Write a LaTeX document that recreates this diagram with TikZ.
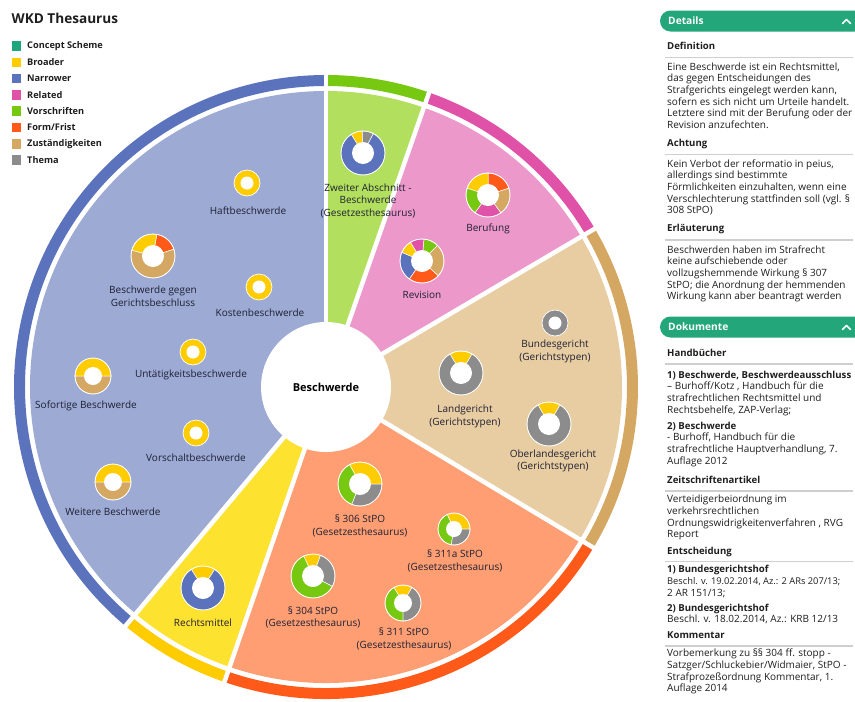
\documentclass[tikz,border=0pt]{standalone}
\usepackage{fontspec}
\setmainfont{Open Sans}
\usetikzlibrary{calc}
\definecolor{cscheme}{HTML}{20A67C}
\definecolor{cbroad}{HTML}{FFCC00}
\definecolor{cnarrow}{HTML}{5B73BD}
\definecolor{crel}{HTML}{E052A8}
\definecolor{cvor}{HTML}{77C811}
\definecolor{cform}{HTML}{FF5A1A}
\definecolor{czust}{HTML}{D4A862}
\definecolor{cthema}{HTML}{8C8C8C}
\definecolor{wblue}{HTML}{9CAAD4}
\definecolor{wgreen}{HTML}{B2E05E}
\definecolor{wpink}{HTML}{EC98CB}
\definecolor{wtan}{HTML}{E8CDA2}
\definecolor{worange}{HTML}{FE9E72}
\definecolor{wyellow}{HTML}{FDE22F}
\definecolor{labc}{HTML}{1E2033}
\definecolor{txtc}{HTML}{1E1E1E}
\definecolor{rulec}{HTML}{CFCFCF}
\definecolor{barc}{HTML}{22A67A}
\tikzset{
  lbl/.style={font=\fontsize{10}{12.5}\selectfont, text=labc, align=center, inner sep=0pt},
  legtxt/.style={anchor=west, font=\bfseries\fontsize{9.2}{11}\selectfont, text=txtc, inner sep=0pt},
  ptext/.style={anchor=west, font=\fontsize{10}{11}\selectfont, text=txtc, inner sep=0pt, text height=7pt, text depth=2.4pt},
  psmall/.style={ptext, font=\fontsize{9.3}{11}\selectfont},
  pbold/.style={ptext, font=\bfseries\fontsize{9.6}{11}\selectfont},
  barhead/.style={anchor=west, font=\bfseries\fontsize{10.2}{12}\selectfont, text=white, inner sep=0pt},
  sepline/.style={white, line width=4.5pt},
  rulel/.style={rulec, line width=1.2pt},
  segline/.style={draw=white, line width=0.5pt},
}
% wedge of the pie: angles a<b (screen, counter-clockwise)
\newcommand\pwedge[3]{\fill[#3] (0,0) -- ({-(#1)}:296) arc[start angle={-(#1)}, end angle={-(#2)}, radius=296] -- cycle;}
\newcommand\pring[3]{\fill[#3] ({-(#1)}:301) -- ({-(#1)}:312) arc[start angle={-(#1)}, end angle={-(#2)}, radius=312] -- ({-(#2)}:301) arc[start angle={-(#2)}, end angle={-(#1)}, radius=301] -- cycle;}
% donut segment: x, y, R, a, b, colour
\newcommand\dseg[6]{\begin{scope}[shift={(#1,#2)}]\filldraw[fill=#6, segline] (0,0) -- ({-(#4)}:#3) arc[start angle={-(#4)}, end angle={-(#5)}, radius=#3] -- cycle;\end{scope}}
% donut hole + rim: x, y, R
\newcommand\dhole[3]{\fill[white] (#1,#2) circle[radius={#3/2}]; \draw[white, line width=0.7pt] (#1,#2) circle[radius=#3];}
\newcommand\dfull[4]{\fill[#4] (#1,#2) circle[radius=#3]; \dhole{#1}{#2}{#3}}
\begin{document}
\begin{tikzpicture}[x=1pt, y=-1pt]
\useasboundingbox (0,0) rectangle (855,702);
\fill[white] (0,0) rectangle (855,702);

% ---------- title and legend ----------
\node[anchor=west, font=\bfseries\fontsize{13.6}{16}\selectfont, text=txtc, inner sep=0pt] (title) at (11.5,18) {WKD Thesaurus};
\newcommand\legitem[4]{\fill[#2] (11.5,{#1-4.75}) rectangle ++(9.5,9.5); \node[legtxt] (#3) at (27,#1) {#4};}
\legitem{46}{cscheme}{leg1}{Concept Scheme}
\legitem{62.3}{cbroad}{leg2}{Broader}
\legitem{78.6}{cnarrow}{leg3}{Narrower}
\legitem{94.9}{crel}{leg4}{Related}
\legitem{111.2}{cvor}{leg5}{Vorschriften}
\legitem{127.5}{cform}{leg6}{Form/Frist}
\legitem{143.8}{czust}{leg7}{Zuständigkeiten}
\legitem{160.1}{cthema}{leg8}{Thema}

% ---------- pie ----------
\coordinate (C) at (326,387);
\begin{scope}[shift={(326,387)}]
  \pwedge{70.7}{90}{wgreen}
  \pwedge{30.5}{70.7}{wpink}
  \pwedge{-31}{30.5}{wtan}
  \pwedge{-109}{-31}{worange}
  \pwedge{-130}{-109}{wyellow}
  \pwedge{90}{230}{wblue}
  \pring{70.7}{90}{cvor}
  \pring{30.5}{70.7}{crel}
  \pring{-31}{30.5}{czust}
  \pring{-109}{-31}{cform}
  \pring{-130}{-109}{cbroad}
  \pring{90}{230}{cnarrow}
  \foreach \a in {90,70.7,30.5,-31,-109,-130} \draw[sepline] (0,0) -- ({-\a}:318);
\end{scope}
\node[circle, fill=white, minimum size=130pt, inner sep=0pt, font=\bfseries\fontsize{11}{13}\selectfont, text=black] (center) at (C) {Beschwerde};

% ---------- donuts ----------
% Zweiter Abschnitt
\dseg{363}{153}{22}{122}{422}{cnarrow}
\dseg{363}{153}{22}{92}{122}{cbroad}
\dseg{363}{153}{22}{62}{92}{cthema}
\dhole{363}{153}{22}
\node[lbl] (zweiter) at (368,200.5) {Zweiter Abschnitt -\\Beschwerde\\(Gesetzesthesaurus)};
% Berufung
\dseg{488}{195}{22}{18}{90}{cform}
\dseg{488}{195}{22}{90}{162}{cbroad}
\dseg{488}{195}{22}{162}{234}{cvor}
\dseg{488}{195}{22}{234}{306}{crel}
\dseg{488}{195}{22}{306}{378}{czust}
\dhole{488}{195}{22}
\node[lbl] (berufung) at (488,228.5) {Berufung};
% Revision
\dseg{422}{261}{22}{45}{85}{cvor}
\dseg{422}{261}{22}{85}{122}{crel}
\dseg{422}{261}{22}{122}{157}{cbroad}
\dseg{422}{261}{22}{157}{235}{cnarrow}
\dseg{422}{261}{22}{235}{318}{cform}
\dseg{422}{261}{22}{318}{405}{czust}
\dhole{422}{261}{22}
\node[lbl] (revision) at (422,295) {Revision};
% Haftbeschwerde
\dfull{247}{183}{13}{cbroad}
\node[lbl] (haft) at (248,211) {Haftbeschwerde};
% Beschwerde gegen Gerichtsbeschluss
\dseg{153}{256}{22}{18}{80}{cform}
\dseg{153}{256}{22}{80}{165}{cbroad}
\dseg{153}{256}{22}{165}{378}{czust}
\dhole{153}{256}{22}
\node[lbl] (gegen) at (153,296) {Beschwerde gegen\\Gerichtsbeschluss};
% Kostenbeschwerde
\dfull{259}{287}{13}{cbroad}
\node[lbl] (kosten) at (260,313) {Kostenbeschwerde};
% Untaetigkeitsbeschwerde
\dfull{193}{352}{13}{cbroad}
\node[lbl] (untaet) at (191,375) {Untätigkeitsbeschwerde};
% Sofortige Beschwerde
\dseg{93}{376}{18}{0}{180}{cbroad}
\dseg{93}{376}{18}{180}{360}{czust}
\dhole{93}{376}{18}
\node[lbl] (sofort) at (86,406) {Sofortige Beschwerde};
% Vorschaltbeschwerde
\dfull{196}{433}{13}{cbroad}
\node[lbl] (vorschalt) at (196,458) {Vorschaltbeschwerde};
% Weitere Beschwerde
\dseg{113}{482}{18}{0}{180}{cbroad}
\dseg{113}{482}{18}{180}{360}{czust}
\dhole{113}{482}{18}
\node[lbl] (weitere) at (113,512) {Weitere Beschwerde};
% Rechtsmittel
\dseg{203}{588}{22}{58}{122}{cbroad}
\dseg{203}{588}{22}{122}{418}{cnarrow}
\dhole{203}{588}{22}
\node[lbl] (rechtsm) at (203,623) {Rechtsmittel};
% Bundesgericht
\dfull{555}{323}{13}{cthema}
\node[lbl] (bgh) at (555,351.5) {Bundesgericht\\(Gerichtstypen)};
% Landgericht
\dseg{461}{373}{22}{60}{120}{cbroad}
\dseg{461}{373}{22}{120}{420}{cthema}
\dhole{461}{373}{22}
\node[lbl] (lg) at (465,416.5) {Landgericht\\(Gerichtstypen)};
% Oberlandesgericht
\dseg{549}{424}{22}{60}{120}{cbroad}
\dseg{549}{424}{22}{120}{420}{cthema}
\dhole{549}{424}{22}
\node[lbl] (olg) at (553,461) {Oberlandesgericht\\(Gerichtstypen)};
% 306
\dseg{360}{484}{22}{0}{118}{cbroad}
\dseg{360}{484}{22}{118}{248}{cvor}
\dseg{360}{484}{22}{248}{360}{cthema}
\dhole{360}{484}{22}
\node[lbl] (p306) at (360,526) {§ 306 StPO\\(Gesetzesthesaurus)};
% 311a
\dseg{454}{529}{16}{0}{115}{cbroad}
\dseg{454}{529}{16}{115}{260}{cvor}
\dseg{454}{529}{16}{260}{360}{cthema}
\dhole{454}{529}{16}
\node[lbl] (p311a) at (455,561) {§ 311a StPO\\(Gesetzesthesaurus)};
% 304
\dseg{313}{576}{22}{70}{115}{cbroad}
\dseg{313}{576}{22}{115}{332}{cvor}
\dseg{313}{576}{22}{332}{430}{cthema}
\dhole{313}{576}{22}
\node[lbl] (p304) at (313,617.5) {§ 304 StPO\\(Gesetzesthesaurus)};
% 311
\dseg{403}{603}{18}{60}{120}{cbroad}
\dseg{403}{603}{18}{120}{270}{cvor}
\dseg{403}{603}{18}{270}{420}{cthema}
\dhole{403}{603}{18}
\node[lbl] (p311) at (404,639) {§ 311 StPO\\(Gesetzesthesaurus)};

% ---------- right panel ----------
\begin{scope}
\clip (0,0) rectangle (855,702);
\fill[barc, rounded corners=10.5pt] (660,10.5) rectangle (866,31.5);
\fill[barc, rounded corners=10.5pt] (660,316.5) rectangle (866,337.5);
\end{scope}
\node[barhead] (hdetails) at (668,21) {Details};
\draw[white, line width=1.6pt, line cap=round, line join=round] (842.5,23.5) -- (846.5,19.5) -- (850.5,23.5);
\node[barhead] (hdok) at (668,327) {Dokumente};
\draw[white, line width=1.6pt, line cap=round, line join=round] (842.5,329.5) -- (846.5,325.5) -- (850.5,329.5);

\node[pbold] (sdef) at (667,47) {Definition};
\draw[rulel] (665,57.5) -- (853,57.5);
\node[ptext] (d1) at (667,68) {Eine Beschwerde ist ein Rechtsmittel,};
\node[ptext] (d2) at (667,79.6) {das gegen Entscheidungen des};
\node[ptext] (d3) at (667,91.2) {Strafgerichts eingelegt werden kann,};
\node[ptext] (d4) at (667,102.8) {sofern es sich nicht um Urteile handelt.};
\node[ptext] (d5) at (667,114.4) {Letztere sind mit der Berufung oder der};
\node[ptext] (d6) at (667,126) {Revision anzufechten.};

\node[pbold] (sach) at (667,144) {Achtung};
\draw[rulel] (665,154.5) -- (853,154.5);
\node[ptext] (a1) at (667,165) {Kein Verbot der reformatio in peius,};
\node[ptext] (a2) at (667,176.6) {allerdings sind bestimmte};
\node[ptext] (a3) at (667,188.2) {Förmlichkeiten einzuhalten, wenn eine};
\node[ptext] (a4) at (667,199.8) {Verschlechterung stattfinden soll (vgl. §};
\node[ptext] (a5) at (667,211.4) {308 StPO)};

\node[pbold] (serl) at (667,229.5) {Erläuterung};
\draw[rulel] (665,240) -- (853,240);
\node[ptext] (e1) at (667,251) {Beschwerden haben im Strafrecht};
\node[ptext] (e2) at (667,262.6) {keine aufschiebende oder};
\node[ptext] (e3) at (667,274.2) {vollzugshemmende Wirkung § 307};
\node[ptext] (e4) at (667,285.8) {StPO; die Anordnung der hemmenden};
\node[ptext] (e5) at (667,297.4) {Wirkung kann aber beantragt werden};

\node[pbold] (shand) at (667,354) {Handbücher};
\draw[rulel] (665,364) -- (853,364);
\node[pbold] (h1) at (667,376) {1) Beschwerde, Beschwerdeausschluss};
\node[ptext] (h2) at (667,387.6) {– Burhoff/Kotz , Handbuch für die};
\node[ptext] (h3) at (667,399.2) {strafrechtlichen Rechtsmittel und};
\node[ptext] (h4) at (667,410.8) {Rechtsbehelfe, ZAP-Verlag;};
\node[pbold] (h5) at (667,427) {2) Beschwerde};
\node[ptext] (h6) at (667,438.6) {- Burhoff, Handbuch für die};
\node[ptext] (h7) at (667,450.2) {strafrechtliche Hauptverhandlung, 7.};
\node[ptext] (h8) at (667,461.8) {Auflage 2012};

\node[pbold] (szeit) at (667,481) {Zeitschriftenartikel};
\draw[rulel] (665,491) -- (853,491);
\node[ptext] (z1) at (667,500.5) {Verteidigerbeiordnung im};
\node[ptext] (z2) at (667,512.1) {verkehrsrechtlichen};
\node[ptext] (z3) at (667,523.7) {Ordnungswidrigkeitenverfahren , RVG};
\node[ptext] (z4) at (667,535.3) {Report};

\node[pbold] (sent) at (667,552) {Entscheidung};
\draw[rulel] (665,561.5) -- (853,561.5);
\node[pbold] (n1) at (667,570.5) {1) Bundesgerichtshof};
\node[psmall] (n2) at (667,582.1) {Beschl. v. 19.02.2014, Az.: 2 ARs 207/13;};
\node[ptext] (n3) at (667,593.7) {2 AR 151/13;};
\node[pbold] (n4) at (667,609) {2) Bundesgerichtshof};
\node[ptext] (n5) at (667,620.6) {Beschl. v. 18.02.2014, Az.: KRB 12/13};

\node[pbold] (skomm) at (667,636.5) {Kommentar};
\draw[rulel] (665,646) -- (853,646);
\node[ptext] (k1) at (667,654.5) {Vorbemerkung zu §§ 304 ff. stopp -};
\node[ptext] (k2) at (667,666.1) {Satzger/Schluckebier/Widmaier, StPO -};
\node[ptext] (k3) at (667,677.7) {Strafprozeßordnung Kommentar, 1.};
\node[ptext] (k4) at (667,689.3) {Auflage 2014};
\end{tikzpicture}
\end{document}
